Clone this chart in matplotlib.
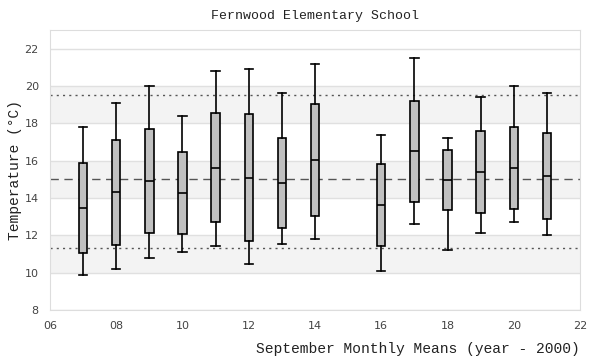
import matplotlib
matplotlib.use("Agg")
import matplotlib.pyplot as plt
from matplotlib.ticker import FuncFormatter

# September means, year - 2000 (no box for 2015)
years = [7, 8, 9, 10, 11, 12, 13, 14, 16, 17, 18, 19, 20, 21]
whisk_lo = [9.86, 10.18, 10.77, 11.10, 11.45, 10.48, 11.56, 11.78, 10.07, 12.60, 11.20, 12.12, 12.71, 11.99]
q1 = [11.04, 11.47, 12.12, 12.05, 12.69, 11.67, 12.37, 13.01, 11.40, 13.77, 13.34, 13.19, 13.41, 12.87]
median = [13.46, 14.32, 14.90, 14.25, 15.61, 15.08, 14.79, 16.03, 13.62, 16.51, 14.95, 15.38, 15.61, 15.18]
q3 = [15.88, 17.12, 17.71, 16.46, 18.56, 18.50, 17.21, 19.04, 15.81, 19.20, 16.57, 17.61, 17.82, 17.48]
whisk_hi = [17.80, 19.11, 20.00, 18.39, 20.82, 20.92, 19.63, 21.19, 17.37, 21.52, 17.21, 19.42, 20.01, 19.63]

overall_mean = 15.0
band_lo, band_hi = 11.31, 19.52
shaded = [(10, 12), (14, 16), (18, 20)]

mono = ["Liberation Mono", "DejaVu Sans Mono"]

fig = plt.figure(figsize=(6, 3.6), dpi=100)
ax = fig.add_axes([0.0833, 0.139, 0.8834, 0.7777])

for lo, hi in shaded:
    ax.axhspan(lo, hi, color="#f3f3f3", zorder=0, lw=0)
ax.yaxis.grid(True, color="#e0e0e0", lw=1, zorder=0.5)
ax.set_axisbelow(True)

ax.axhline(overall_mean, color="#555555", lw=1, ls=(0, (6, 4)), zorder=1)
ax.axhline(band_hi, color="#555555", lw=1, ls=(0, (1.5, 3)), zorder=1)
ax.axhline(band_lo, color="#555555", lw=1, ls=(0, (1.5, 3)), zorder=1)

stats = []
for i in range(len(years)):
    stats.append({"whislo": whisk_lo[i], "q1": q1[i], "med": median[i],
                  "q3": q3[i], "whishi": whisk_hi[i], "fliers": []})

ax.bxp(stats, positions=years, widths=0.25, patch_artist=True,
       showfliers=False, manage_ticks=False,
       boxprops=dict(facecolor="#c0c0c0", edgecolor="black", lw=1.2),
       medianprops=dict(color="black", lw=1.2),
       whiskerprops=dict(color="black", lw=1.2),
       capprops=dict(color="black", lw=1.2),
       capwidths=0.25, zorder=3)

ax.set_xlim(6, 22)
ax.set_ylim(8, 23)
ax.set_xticks(range(6, 23, 2))
ax.set_yticks(range(8, 23, 2))
ax.xaxis.set_major_formatter(FuncFormatter(lambda v, p: f"{int(v):02d}"))
ax.tick_params(length=0, labelsize=8, colors="#444444", pad=8)

for s in ax.spines.values():
    s.set_color("#dddddd")

ax.set_title("Fernwood Elementary School", family=mono, fontsize=9.5,
             color="#222222", pad=8)
ax.set_xlabel("September Monthly Means (year - 2000)", family=mono,
              fontsize=10.5, color="#222222", loc="right", labelpad=8)
ax.set_ylabel("Temperature (°C)", family=mono, fontsize=10.5,
              color="#222222", labelpad=2)

fig.savefig("out.png", dpi=100)
